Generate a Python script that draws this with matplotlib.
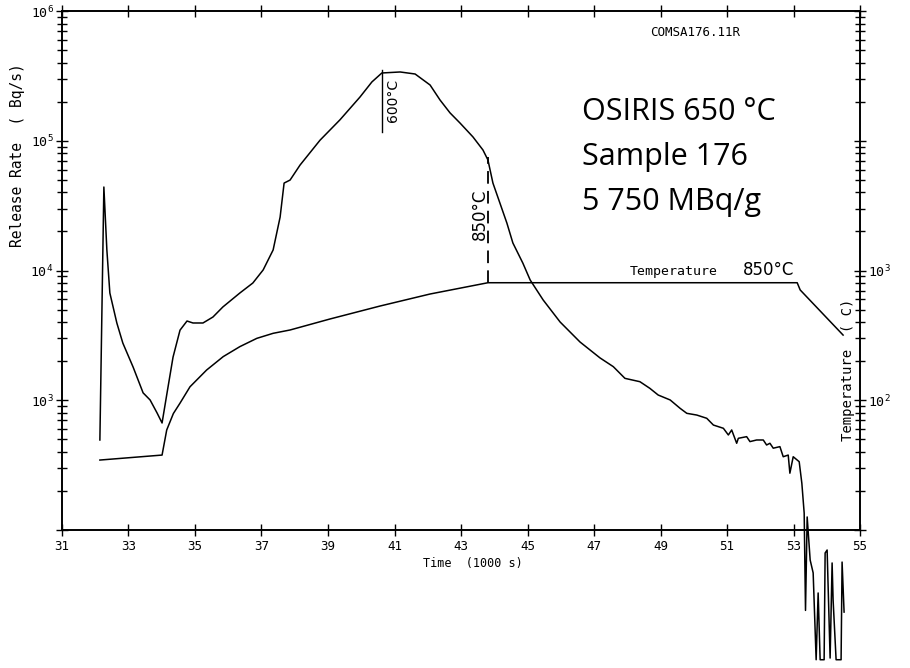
import math
import matplotlib
matplotlib.use("Agg")
import matplotlib.pyplot as plt
from matplotlib.ticker import FixedLocator, FuncFormatter, LogLocator, NullFormatter

# Release rate (Bq/s) against time (1000 s)
rel_time = [32.14, 32.26, 32.35, 32.44, 32.65, 32.83, 33.14, 33.44, 33.65, 33.86,
            34.01, 34.16, 34.34, 34.55, 34.76, 34.94, 35.24, 35.54, 35.84, 36.35,
            36.74, 37.05, 37.35, 37.56, 37.68, 37.86, 38.16, 38.76, 39.36, 39.96,
            40.32, 40.62, 41.17, 41.62, 42.07, 42.37, 42.67, 42.97, 43.36, 43.66,
            43.81, 43.96, 44.17, 44.38, 44.56, 44.86, 45.08, 45.47, 45.98, 46.58,
            47.18, 47.58, 47.93, 48.38, 48.68, 48.93, 49.29, 49.59, 49.79, 50.09,
            50.39, 50.59, 50.89, 51.04, 51.14, 51.29, 51.34, 51.59, 51.69, 51.89,
            52.09, 52.19, 52.29, 52.39, 52.59, 52.69, 52.84, 52.89, 52.99, 53.17,
            53.25, 53.32, 53.36, 53.41, 53.50, 53.59, 53.68, 53.74, 53.80, 53.92,
            53.95, 54.01, 54.10, 54.16, 54.19, 54.28, 54.43, 54.46, 54.52]
rel_rate = [494, 44000, 14400, 6710, 3940, 2760, 1800, 1140, 1005, 798,
            668, 1140, 2150, 3470, 4080, 3940, 3940, 4380, 5240, 6710,
            8010, 10100, 14400, 25800, 47200, 49800, 65000, 101000, 145000, 217000,
            284000, 333000, 339000, 327000, 269000, 206000, 164000, 137000, 107000, 84900,
            71100, 47200, 33100, 23200, 16300, 11400, 8450, 5930, 4010, 2810,
            2120, 1815, 1475, 1390, 1235, 1097, 1005, 866, 793, 769,
            726, 644, 608, 540, 590, 466, 509, 524, 480, 494,
            494, 452, 466, 427, 439, 367, 378, 274, 367, 336,
            229, 135, 24, 126, 58.7, 46.7, 10, 32.7, 10, 10,
            66.5, 70.1, 10.3, 55.7, 28.8, 10, 10, 56.6, 23.3]

# Temperature (C) on the right-hand axis
temp_time = [32.14, 34.01, 34.15, 34.35, 34.55, 34.85, 35.35, 35.85, 36.35, 36.86,
             37.35, 37.86, 39.06, 40.56, 42.07, 43.81, 53.11, 53.20, 54.49]
temp_val = [34.6, 37.8, 59, 79, 95, 127, 171, 217, 259, 300,
            328, 348, 423, 532, 659, 805, 805, 708, 318]

x_ticks = list(range(31, 56, 2))
left_labelled = [1e3, 1e4, 1e5, 1e6]
right_labelled = [1e2, 1e3]
info_lines = ["OSIRIS 650 °C", "Sample 176", "5 750 MBq/g"]

t_600 = 40.62      # 600 C marker
t_850 = 43.81      # 850 C reached

MONO = "DejaVu Sans Mono"
plt.rcParams["font.family"] = MONO
plt.rcParams["mathtext.fontset"] = "custom"
plt.rcParams["mathtext.rm"] = MONO
plt.rcParams["mathtext.default"] = "rm"

fig = plt.figure(figsize=(9.1, 6.68), dpi=100)
ax = fig.add_axes([0.0681, 0.2066, 0.8770, 0.7769])
ax2 = ax.twinx()

ax.plot(rel_time, rel_rate, color="black", lw=1.1, clip_on=False, zorder=3)
ax2.plot(temp_time, temp_val, color="black", lw=1.1)

ax.set_yscale("log")
ax.set_ylim(1e2, 1e6)
ax2.set_yscale("log")
ax2.set_ylim(1e1, 1e5)
ax.set_xlim(31, 55)

# markers at 600 C and 850 C
ax.plot([t_600, t_600], [117000, 351000], color="black", lw=1.0)
ax.text(t_600 + 0.32, 205000, "600°C", rotation=90, fontsize=10,
        family="DejaVu Sans", ha="center", va="center")
ax.plot([t_850, t_850], [8000, 75000], color="black", lw=1.3, ls=(0, (7, 4)))
ax.text(t_850 - 0.25, 27000, "850°C", rotation=90, fontsize=12,
        family="DejaVu Sans", ha="center", va="center")


def make_fmt(labelled):
    def fmt(v, pos):
        for lv in labelled:
            if abs(v - lv) < 1e-6 * lv:
                return r"$10^{%d}$" % round(math.log10(v))
        return ""
    return FuncFormatter(fmt)


ax.yaxis.set_major_locator(LogLocator(base=10, numticks=10))
ax.yaxis.set_minor_locator(LogLocator(base=10, subs=range(2, 10), numticks=10))
ax.yaxis.set_major_formatter(make_fmt(left_labelled))
ax.yaxis.set_minor_formatter(NullFormatter())
ax2.yaxis.set_major_locator(LogLocator(base=10, numticks=10))
ax2.yaxis.set_minor_locator(LogLocator(base=10, subs=range(2, 10), numticks=10))
ax2.yaxis.set_major_formatter(make_fmt(right_labelled))
ax2.yaxis.set_minor_formatter(NullFormatter())

ax.xaxis.set_major_locator(FixedLocator(x_ticks))
ax.set_xticklabels([str(t) for t in x_ticks])
ax.xaxis.set_minor_locator(FixedLocator([]))

ax.tick_params(axis="x", which="major", direction="inout", length=8, width=1,
               top=True, bottom=True, labelsize=9, pad=3)
ax.tick_params(axis="y", which="major", direction="inout", length=8, width=1,
               left=True, right=False, labelsize=9.5, pad=2)
ax.tick_params(axis="y", which="minor", direction="inout", length=7, width=1,
               left=True, right=False)
ax2.tick_params(axis="y", which="major", direction="inout", length=8, width=1,
                labelsize=9.5, pad=2)
ax2.tick_params(axis="y", which="minor", direction="inout", length=7, width=1)

for sp in list(ax.spines.values()) + list(ax2.spines.values()):
    sp.set_linewidth(1.2)

# axis titles placed as on the original plot
fig.text(18 / 910, 1 - 155 / 668, "Release Rate  ( Bq/s)", rotation=90,
         ha="center", va="center", fontsize=10.5)
fig.text(848 / 910, 1 - 370 / 668, "Temperature  ( C)", rotation=90,
         ha="center", va="center", fontsize=10)
fig.text(473 / 910, 1 - 563 / 668, "Time  (1000 s)", ha="center", va="center",
         fontsize=8.5)
fig.text(695 / 910, 1 - 32 / 668, "COMSA176.11R", ha="center", va="center",
         fontsize=9)

for i, line in enumerate(info_lines):
    fig.text(582 / 910, 1 - (120 + 45 * i) / 668, line, ha="left", va="baseline",
             fontsize=22, family="Open Sans")

fig.text(630 / 910, 1 - 272 / 668, "Temperature", ha="left", va="center",
         fontsize=9.5)
fig.text(743 / 910, 1 - 270 / 668, "850°C", ha="left", va="center",
         fontsize=12, family="DejaVu Sans")

fig.savefig("out.png", dpi=100)
plt.close(fig)
